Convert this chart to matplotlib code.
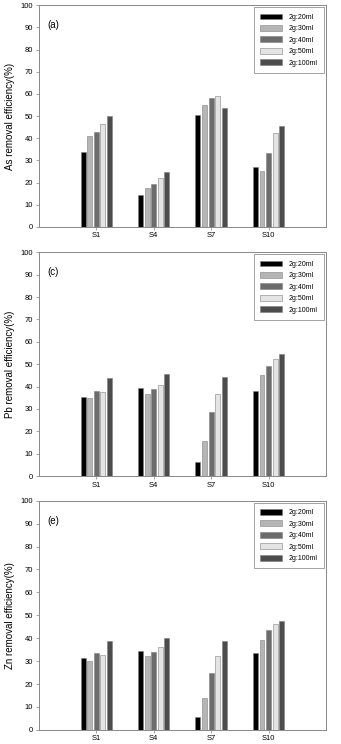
import matplotlib
matplotlib.use("Agg")
import matplotlib.pyplot as plt
import numpy as np

plt.rcParams["font.family"] = ["Liberation Sans", "DejaVu Sans"]

sites = ["S1", "S4", "S7", "S10"]
ratios = ["2g:20ml", "2g:30ml", "2g:40ml", "2g:50ml", "2g:100ml"]

# removal efficiency (%), rows = ratio, cols = site
as_eff = [
    [34.0, 14.4, 50.5, 26.9],
    [41.0, 17.7, 54.8, 25.4],
    [43.0, 19.4, 58.1, 33.5],
    [46.5, 21.9, 58.9, 42.2],
    [50.2, 24.6, 53.8, 45.6],
]
pb_eff = [
    [35.5, 39.2, 6.5, 38.2],
    [34.8, 36.8, 15.8, 45.0],
    [38.0, 39.0, 28.5, 49.4],
    [37.4, 40.8, 36.8, 52.5],
    [44.0, 45.4, 44.2, 54.5],
]
zn_eff = [
    [31.2, 34.2, 5.6, 33.5],
    [30.2, 32.1, 14.0, 39.4],
    [33.4, 34.1, 25.0, 43.4],
    [32.7, 36.0, 32.1, 46.3],
    [38.7, 39.9, 38.8, 47.6],
]

panels = [
    ("(a)", "As removal efficiency(%)", as_eff),
    ("(c)", "Pb removal efficiency(%)", pb_eff),
    ("(e)", "Zn removal efficiency(%)", zn_eff),
]

colors = ["#000000", "#b5b5b5", "#6c6c6c", "#e4e4e4", "#4c4c4c"]
boxes = [(0.695, 0.993), (0.360, 0.661), (0.019, 0.327)]

fig = plt.figure(figsize=(3.41, 7.44), dpi=100)
x = np.arange(1, len(sites) + 1)
w = 0.085
step = 0.115

for (tag, ylabel, data), (bot, top) in zip(panels, boxes):
    ax = fig.add_axes([0.114, bot, 0.842, top - bot])
    for i, (lab, vals) in enumerate(zip(ratios, data)):
        ax.bar(x + (i - 2) * step, vals, width=w, color=colors[i],
               edgecolor="#808080", linewidth=0.4, label=lab)
    ax.set_xlim(0, 5)
    ax.set_ylim(0, 100)
    ax.set_yticks(range(0, 101, 10))
    ax.set_xticks(x)
    ax.set_xticklabels(sites)
    ax.tick_params(labelsize=5.5, length=2, width=0.5, color="#808080", pad=2)
    for s in ax.spines.values():
        s.set_color("#888888")
        s.set_linewidth(0.7)
    ax.set_ylabel(ylabel, fontsize=7, labelpad=4)
    ax.text(0.03, 0.91, tag, transform=ax.transAxes, fontsize=7,
            ha="left", va="center")
    leg = ax.legend(loc="upper right", fontsize=5, frameon=True, fancybox=False,
                    edgecolor="#777777", handlelength=3.2, handleheight=0.9,
                    borderaxespad=0.3, labelspacing=0.6, borderpad=0.9,
                    handletextpad=0.9)
    leg.get_frame().set_linewidth(0.6)

fig.savefig("out.png", dpi=100)
